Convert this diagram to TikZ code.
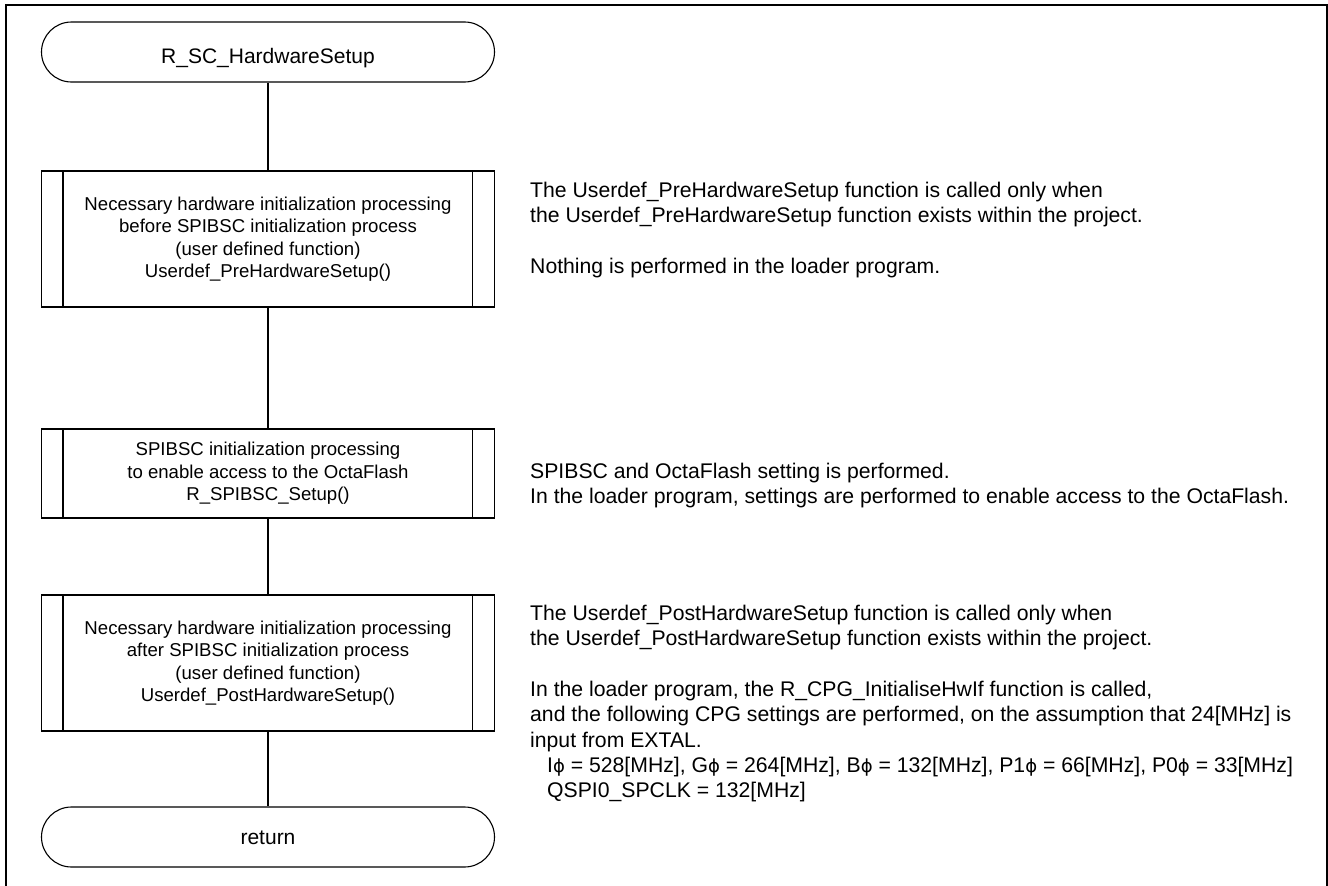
\documentclass[tikz,border=0pt]{standalone}
\usepackage{fontspec}
\setmainfont{Liberation Sans}
\newfontfamily\phifont[Scale=0.85]{DejaVu Sans}
\newcommand{\ph}{{\phifont ϕ}}
\begin{document}
\begin{tikzpicture}[x=1pt,y=-1pt,
  flow/.style={line width=1.1pt},
  terminal/.style={draw, flow, rounded corners=30pt, minimum width=453pt,
    minimum height=60pt, inner sep=0pt, text height=15pt, text depth=0pt,
    font=\fontsize{21}{25}\selectfont},
  procbox/.style={draw, flow, minimum width=453pt, inner sep=0pt,
    align=center, font=\fontsize{18.6}{22.5}\selectfont},
  note/.style={anchor=base west, inner sep=0pt,
    font=\fontsize{21.2}{25.3}\selectfont}]
\useasboundingbox (0,0) rectangle (1328,886);

% outer frame (open at the bottom)
\draw[line width=1.8pt] (6,886) -- (6,5) -- (1327,5) -- (1327,886);

% flowchart column
\node[terminal, text height=22pt] (start) at (268,52) {R\_SC\_HardwareSetup};
\node[procbox, minimum height=136pt] (pre) at (268,239)
  {Necessary hardware initialization processing\\
   before SPIBSC initialization process\\
   (user defined function)\\
   Userdef\_PreHardwareSetup()};
\node[procbox, minimum height=89pt] (spi) at (268,473.5)
  {SPIBSC initialization processing\\
   to enable access to the OctaFlash\\
   R\_SPIBSC\_Setup()};
\node[procbox, minimum height=136pt] (post) at (268,663)
  {Necessary hardware initialization processing\\
   after SPIBSC initialization process\\
   (user defined function)\\
   Userdef\_PostHardwareSetup()};
\node[terminal] (ret) at (268,837) {return};

% side bars of the predefined-process boxes
\foreach \b in {pre,spi,post}{
  \draw[flow] ([xshift=22pt]\b.north west) -- ([xshift=22pt]\b.south west);
  \draw[flow] ([xshift=-23pt]\b.north east) -- ([xshift=-23pt]\b.south east);
}

% connectors
\draw[flow] (start) -- (pre);
\draw[flow] (pre) -- (spi);
\draw[flow] (spi) -- (post);
\draw[flow] (post) -- (ret);

% notes beside the boxes
\node[note] (preA) at (530,197) {The Userdef\_PreHardwareSetup function is called only when};
\node[note] (preB) at (530,222) {the Userdef\_PreHardwareSetup function exists within the project.};
\node[note] (preC) at (530,273) {Nothing is performed in the loader program.};

\node[note] (spiA) at (530,478) {SPIBSC and OctaFlash setting is performed.};
\node[note] (spiB) at (530,503) {In the loader program, settings are performed to enable access to the OctaFlash.};

\node[note] (postA) at (530,620) {The Userdef\_PostHardwareSetup function is called only when};
\node[note] (postB) at (530,645) {the Userdef\_PostHardwareSetup function exists within the project.};
\node[note] (postC) at (530,696) {In the loader program, the R\_CPG\_InitialiseHwIf function is called,};
\node[note] (postD) at (530,721) {and the following CPG settings are performed, on the assumption that 24[MHz] is};
\node[note] (postE) at (530,747) {input from EXTAL.};
\node[note] (postF) at (547,772) {I\ph{} = 528[MHz], G\ph{} = 264[MHz], B\ph{} = 132[MHz], P1\ph{} = 66[MHz], P0\ph{} = 33[MHz]};
\node[note] (postG) at (547,797) {QSPI0\_SPCLK = 132[MHz]};
\end{tikzpicture}
\end{document}
